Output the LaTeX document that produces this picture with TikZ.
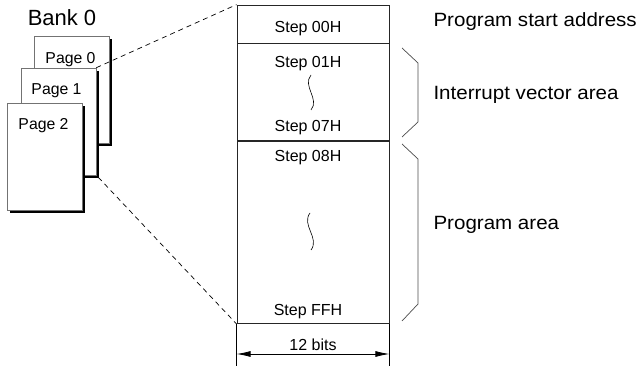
\documentclass[tikz,border=0pt]{standalone}
\usepackage{fontspec}
\setmainfont{Liberation Sans}
\newfontfamily\areafont{Liberation Sans}[FakeStretch=1.07]
\usetikzlibrary{shadows, positioning, arrows.meta, calc}

\begin{document}
\begin{tikzpicture}[
        x=1pt, y=-1pt,
        % --- stiluri ---
        page/.style={
                draw=black!55,
                fill=white,
                line width=0.6pt,
                minimum width=75pt,
                minimum height=107pt,
                inner sep=0pt,
                drop shadow={shadow xshift=3pt, shadow yshift=-3pt, fill=black, opacity=1}
            },
        cell/.style={
                draw=black!85,
                line width=0.8pt,
                minimum width=152pt,
                inner sep=0pt
            },
        steptxt/.style={
                anchor=base,
                font=\fontsize{16}{18}\selectfont
            },
        pagetxt/.style={
                anchor=base,
                font=\fontsize{15.8}{18}\selectfont
            },
        arealbl/.style={
                anchor=base west,
                font=\areafont\fontsize{19.2}{22}\selectfont
            },
        brace/.style={
                draw=black!70,
                line width=0.7pt
            },
        zoomline/.style={
                dash pattern=on 5pt off 4pt,
                line width=0.7pt
            }
    ]

    \useasboundingbox (0,0) rectangle (640,366);

    % 1. Banca si paginile
    \node[anchor=base, font=\fontsize{22}{26}\selectfont] (bank) at (62,26) {Bank 0};
    \node[page] (page0) at (71.5,89.5) {};
    \node[page] (page1) at (58.5,121.5) {};
    \node[page] (page2) at (44.5,156.5) {};
    \node[pagetxt] (lbl0) at ($(page0.north)+(-1,28)$) {Page 0};
    \node[pagetxt] (lbl1) at ($(page1.north)+(-2,27)$) {Page 1};
    \node[pagetxt] (lbl2) at ($(page2.north)+(-1,27)$) {Page 2};

    % 2. Harta memoriei
    \node[cell, minimum height=38pt] (cell00) at (313,24) {};
    \node[cell, minimum height=97pt, anchor=north] (cellvec) at (cell00.south) {};
    \node[cell, minimum height=182pt, anchor=north] (cellprog) at (cellvec.south) {};
    \draw[black, line width=0.8pt] (cellprog.south west) -- ++(0,44) coordinate (endl);
    \draw[black, line width=0.8pt] (cellprog.south east) -- ++(0,44) coordinate (endr);

    \node[steptxt] (s00) at (308,32.3) {Step 00H};
    \node[steptxt] (s01) at (308,68) {Step 01H};
    \node[steptxt] (s07) at (308,132) {Step 07H};
    \node[steptxt] (s08) at (308,162) {Step 08H};
    \node[steptxt] (sff) at (308,315) {Step FFH};

    % salturi
    \draw[line width=0.6pt] (311,75) .. controls (302,86) and (320,99) .. (311,110);
    \draw[line width=0.6pt] (310,213) .. controls (301,225) and (320,238) .. (311,250);

    % latimea
    \draw[{Latex[length=14pt,width=6pt]}-{Latex[length=14pt,width=6pt]}, line width=0.8pt]
    ($(cellprog.south west)+(0,30)$) --
    node[midway, above, font=\fontsize{16}{18}\selectfont] (bits) {12 bits}
    ($(cellprog.south east)+(0,30)$);

    % 3. Liniile de marire
    \draw[zoomline] (page1.north east) -- (cell00.north west);
    \draw[zoomline] ([shift={(2,2)}]page1.south east) -- (cellprog.south west);

    % 4. Acolade si zone
    \draw[brace] (402,48) -- (418,63) -- (418,122) -- (402,137);
    \draw[brace] (402,144) -- (418,159) -- (418,304) -- (402,321);

    \node[arealbl] (start) at (430,26.7) {Program start address};
    \node[arealbl] (vecarea) at (430,100) {Interrupt vector area};
    \node[arealbl] (progarea) at (430,230) {Program area};

\end{tikzpicture}
\end{document}
